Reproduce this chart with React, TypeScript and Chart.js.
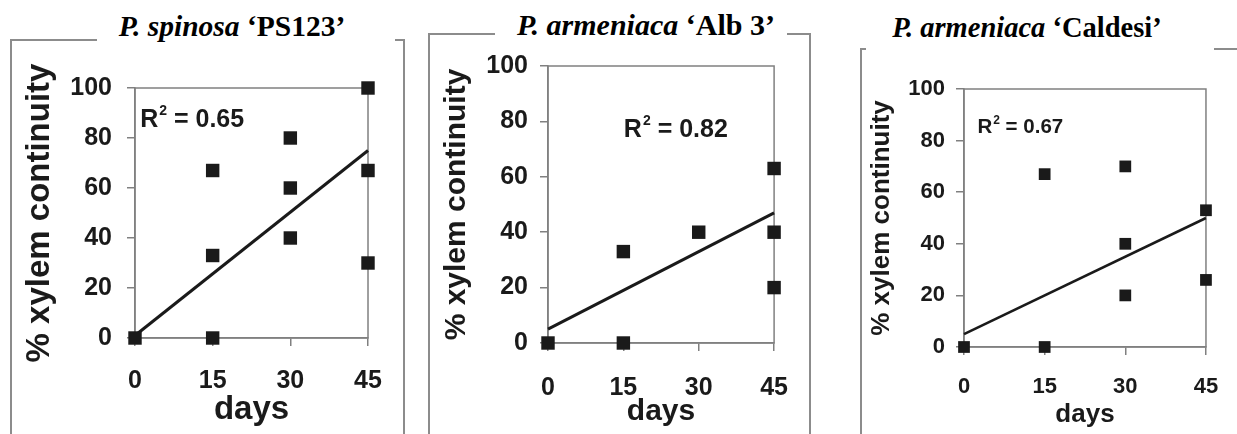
import React, { useEffect, useRef } from "react";
import { Chart, registerables } from "chart.js";

Chart.register(...registerables);

// ---- data ----
const xTickValues = [0, 15, 30, 45];
const yTickValues = [0, 20, 40, 60, 80, 100];
const trendDays = [0, 45];

const days1 = [0, 15, 15, 15, 30, 30, 30, 45, 45, 45];
const cont1 = [0, 67, 33, 0, 80, 60, 40, 100, 67, 30];
const trend1 = [1, 75];
const r2Value1 = "0.65";

const days2 = [0, 15, 15, 30, 45, 45, 45];
const cont2 = [0, 33, 0, 40, 63, 40, 20];
const trend2 = [5, 47];
const r2Value2 = "0.82";

const days3 = [0, 15, 15, 30, 30, 30, 45, 45];
const cont3 = [0, 67, 0, 70, 40, 20, 53, 26];
const trend3 = [5, 50];
const r2Value3 = "0.67";

const speciesNames = ["P. spinosa", "P. armeniaca", "P. armeniaca"];
const cultivarNames = ["\u2018PS123\u2019", "\u2018Alb 3\u2019", "\u2018Caldesi\u2019"];
const xTitle = "days";
const yTitle = "% xylem continuity";

type PanelCfg = {
  days: number[];
  cont: number[];
  trend: number[];
  r2: string;
  canvas: { left: number; top: number; width: number; height: number };
  yAxisWidth: number;
  xAxisHeight: number;
  pad: { top: number; right: number };
  yTitlePadTop: number;
  xTitlePadBottom: number;
  yTickPad: number;
  xTickPad: number;
  tickSize: number;
  titleSize: number;
  r2Size: number;
  r2Pos: { x: number; y: number };
  pointRadius: number;
  lineWidth: number;
};

const GRAY = "#808080";
const INK = "#1a1a1a";

const boxPlugin = {
  id: "plotBox",
  beforeDatasetsDraw(chart: any) {
    const { ctx, chartArea: a } = chart;
    ctx.save();
    ctx.strokeStyle = GRAY;
    ctx.lineWidth = 1.5;
    ctx.strokeRect(a.left, a.top, a.right - a.left, a.bottom - a.top);
    ctx.restore();
  },
};

const r2Plugin = {
  id: "r2Label",
  afterDatasetsDraw(chart: any, _args: any, opts: any) {
    if (!opts || !opts.text) return;
    const { ctx, scales } = chart;
    const x = scales.x.getPixelForValue(opts.x);
    const y = scales.y.getPixelForValue(opts.y);
    const size = opts.size;
    ctx.save();
    ctx.fillStyle = INK;
    ctx.textBaseline = "middle";
    ctx.textAlign = "left";
    ctx.font = `bold ${size}px "Liberation Sans", Arial, sans-serif`;
    ctx.fillText("R", x, y);
    const wR = ctx.measureText("R").width;
    const small = Math.round(size * 0.58);
    ctx.font = `bold ${small}px "Liberation Sans", Arial, sans-serif`;
    ctx.fillText("2", x + wR + 1, y - size * 0.36);
    const w2 = ctx.measureText("2").width;
    ctx.font = `bold ${size}px "Liberation Sans", Arial, sans-serif`;
    ctx.fillText(" = " + opts.text, x + wR + 1 + w2, y);
    ctx.restore();
  },
};

const panels: PanelCfg[] = [
  {
    days: days1, cont: cont1, trend: trend1, r2: r2Value1,
    canvas: { left: 11, top: 40, width: 393, height: 394 },
    yAxisWidth: 124, xAxisHeight: 96,
    pad: { top: 48, right: 36 },
    yTitlePadTop: 9.2, xTitlePadBottom: 4.2,
    yTickPad: 15, xTickPad: 20,
    tickSize: 25, titleSize: 33, r2Size: 25,
    r2Pos: { x: 1, y: 87 },
    pointRadius: 9.5, lineWidth: 3,
  },
  {
    days: days2, cont: cont2, trend: trend2, r2: r2Value2,
    canvas: { left: 429, top: 33, width: 381, height: 401 },
    yAxisWidth: 119, xAxisHeight: 91,
    pad: { top: 33, right: 33 },
    yTitlePadTop: 10, xTitlePadBottom: 4,
    yTickPad: 12, xTickPad: 22,
    tickSize: 25, titleSize: 30, r2Size: 25,
    r2Pos: { x: 15.1, y: 77 },
    pointRadius: 9.5, lineWidth: 3,
  },
  {
    days: days3, cont: cont3, trend: trend3, r2: r2Value3,
    canvas: { left: 861, top: 49, width: 376, height: 385 },
    yAxisWidth: 103, xAxisHeight: 87,
    pad: { top: 40, right: 24 },
    yTitlePadTop: 5.4, xTitlePadBottom: 3.4,
    yTickPad: 11, xTickPad: 18.8,
    tickSize: 22, titleSize: 26, r2Size: 20.5,
    r2Pos: { x: 2.5, y: 85 },
    pointRadius: 8.3, lineWidth: 2.5,
  },
];

function Panel({ cfg }: { cfg: PanelCfg }) {
  const ref = useRef<HTMLCanvasElement | null>(null);
  useEffect(() => {
    if (!ref.current) return;
    const font = (size: number) => ({
      family: '"Liberation Sans", Arial, sans-serif',
      size,
      weight: "bold" as const,
      lineHeight: 1.2,
    });
    const gridCfg = {
      display: true,
      drawOnChartArea: false,
      drawTicks: true,
      tickLength: 8,
      color: GRAY,
      lineWidth: 1.5,
    };
    const chart = new Chart(ref.current, {
      type: "scatter",
      data: {
        datasets: [
          {
            data: cfg.days.map((d, i) => ({ x: d, y: cfg.cont[i] })),
            pointStyle: "rect",
            pointRadius: cfg.pointRadius,
            pointBackgroundColor: INK,
            pointBorderWidth: 0,
            clip: false as any,
          },
          {
            data: trendDays.map((d, i) => ({ x: d, y: cfg.trend[i] })),
            showLine: true,
            pointRadius: 0,
            borderColor: INK,
            borderWidth: cfg.lineWidth,
            clip: false as any,
          },
        ],
      },
      options: {
        responsive: false,
        animation: false,
        layout: {
          padding: { left: 0, top: cfg.pad.top, right: cfg.pad.right, bottom: 0 },
        },
        plugins: {
          legend: { display: false },
          tooltip: { enabled: false },
          r2Label: { text: cfg.r2, x: cfg.r2Pos.x, y: cfg.r2Pos.y, size: cfg.r2Size },
        } as any,
        scales: {
          x: {
            type: "linear",
            min: 0,
            max: 45,
            afterBuildTicks: (axis: any) => {
              axis.ticks = xTickValues.map((v) => ({ value: v }));
            },
            afterFit: (axis: any) => {
              axis.height = cfg.xAxisHeight;
            },
            ticks: { color: INK, font: font(cfg.tickSize), padding: cfg.xTickPad, maxRotation: 0 },
            grid: gridCfg,
            border: { display: true, color: GRAY, width: 1.5 },
            title: {
              display: true,
              text: xTitle,
              color: INK,
              font: font(cfg.titleSize),
              padding: { top: 0, bottom: cfg.xTitlePadBottom },
            },
          },
          y: {
            type: "linear",
            min: 0,
            max: 100,
            afterBuildTicks: (axis: any) => {
              axis.ticks = yTickValues.map((v) => ({ value: v }));
            },
            afterFit: (axis: any) => {
              axis.width = cfg.yAxisWidth;
            },
            ticks: { color: INK, font: font(cfg.tickSize), padding: cfg.yTickPad },
            grid: gridCfg,
            border: { display: true, color: GRAY, width: 1.5 },
            title: {
              display: true,
              text: yTitle,
              color: INK,
              font: font(cfg.titleSize),
              padding: { top: cfg.yTitlePadTop, bottom: 0 },
            },
          },
        },
      },
      plugins: [boxPlugin, r2Plugin],
    } as any);
    return () => chart.destroy();
  }, [cfg]);
  const c = cfg.canvas;
  return (
    <canvas
      ref={ref}
      width={c.width}
      height={c.height}
      style={{ position: "absolute", left: c.left, top: c.top, width: c.width, height: c.height }}
    />
  );
}

const lineStyle = (left: number, top: number, width: number, height: number): React.CSSProperties => ({
  position: "absolute",
  left,
  top,
  width,
  height,
  background: "#8c8c8c",
});

function Title({ i, cx, cy, size }: { i: number; cx: number; cy: number; size: number }) {
  return (
    <div
      style={{
        position: "absolute",
        left: cx,
        top: cy,
        transform: "translate(-50%, -50%)",
        whiteSpace: "nowrap",
        fontFamily: '"Liberation Serif", "Times New Roman", serif',
        fontWeight: "bold",
        fontSize: size,
        lineHeight: 1,
        color: "#000",
      }}
    >
      <i>{speciesNames[i]}</i> {cultivarNames[i]}
    </div>
  );
}

export default function App() {
  return (
    <div
      style={{
        position: "fixed",
        left: 0,
        top: 0,
        width: 1237,
        height: 434,
        background: "#fff",
        overflow: "hidden",
      }}
    >
      {/* panel 1 frame */}
      <div style={lineStyle(10, 39, 2, 395)} />
      <div style={lineStyle(10, 39, 87, 2)} />
      <div style={lineStyle(395, 39, 10, 2)} />
      <div style={lineStyle(403, 39, 2, 395)} />
      {/* panel 2 frame */}
      <div style={lineStyle(428, 33, 2, 401)} />
      <div style={lineStyle(428, 33, 67, 2)} />
      <div style={lineStyle(787, 33, 23, 2)} />
      <div style={lineStyle(809, 33, 2, 401)} />
      {/* panel 3 frame */}
      <div style={lineStyle(860, 48, 2, 386)} />
      <div style={lineStyle(860, 48, 6, 2)} />
      <div style={lineStyle(1214, 48, 23, 2)} />

      <Title i={0} cx={232} cy={27} size={29.5} />
      <Title i={1} cx={646} cy={25} size={30} />
      <Title i={2} cx={1027} cy={28} size={28.5} />

      {panels.map((p, i) => (
        <Panel key={i} cfg={p} />
      ))}
    </div>
  );
}
